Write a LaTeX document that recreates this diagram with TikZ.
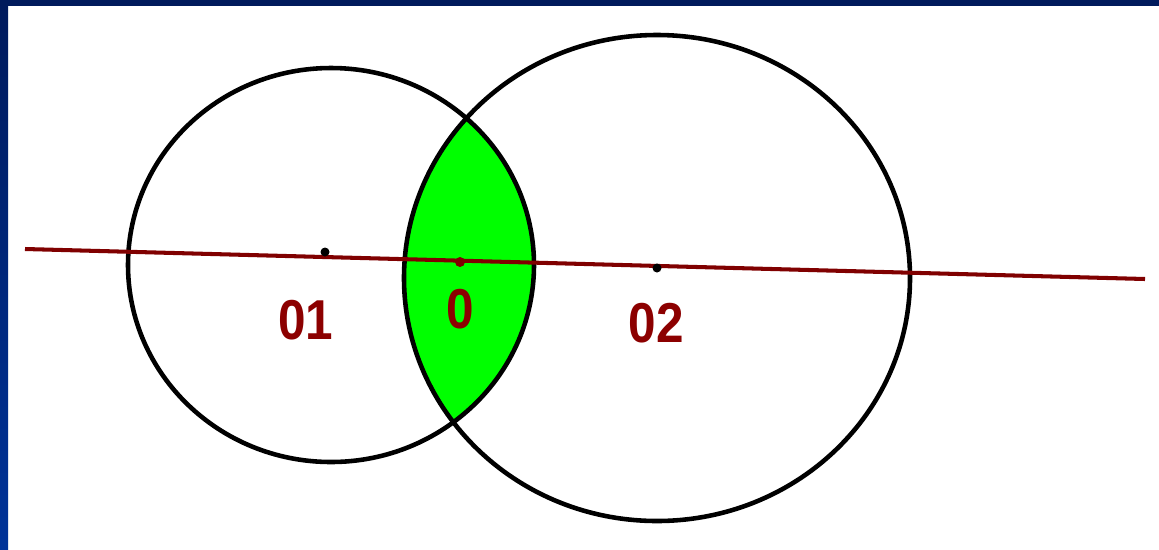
\documentclass[tikz,border=0pt]{standalone}
\usepackage{fontspec}
\setmainfont{Liberation Sans}
\definecolor{bandtop}{RGB}{0,26,92}
\definecolor{bandbot}{RGB}{0,51,153}
\definecolor{axisred}{RGB}{128,0,0}
\definecolor{lblred}{RGB}{140,0,0}
\definecolor{lensgreen}{RGB}{0,255,0}
\tikzset{
  circ/.style={draw=black, line width=2.6pt},
  axis/.style={draw=axisred, line width=2.3pt},
  lbl/.style={text=lblred, inner sep=0pt, font=\bfseries\fontsize{32}{32}\selectfont},
}
\begin{document}
\begin{tikzpicture}[x=0.02cm,y=-0.02cm]
\useasboundingbox (0,0) rectangle (1159,549);
\fill[white] (0,0) rectangle (1159,549);
\shade[top color=bandtop, bottom color=bandbot] (0,0) rectangle (8,549);
\fill[bandtop] (0,0) rectangle (1159,6);
% centres
\coordinate (c1) at (331,265);
\coordinate (c2) at (657,278);
% lens
\begin{scope}
  \clip (c1) ellipse [x radius=203, y radius=197];
  \fill[lensgreen] (c2) ellipse [x radius=253, y radius=243];
\end{scope}
% circles
\draw[circ] (c1) ellipse [x radius=203, y radius=197];
\draw[circ] (c2) ellipse [x radius=253, y radius=243];
% axis line
\coordinate (la) at (25,249);
\coordinate (lb) at (1145,279);
\draw[axis] (la) -- (lb);
% points
\fill[black] (325,252) circle [radius=4.5];
\fill[axisred] (460,262) circle [radius=5];
\fill[black] (657,268) circle [radius=4.5];
% labels
\node[lbl] (o1) at (306,320) {\scalebox{0.88}[1]{01}};
\node[lbl] (o) at (460,309) {\scalebox{0.88}[1]{0}};
\node[lbl] (o2) at (656,323) {\scalebox{0.88}[1]{02}};
\end{tikzpicture}
\end{document}
